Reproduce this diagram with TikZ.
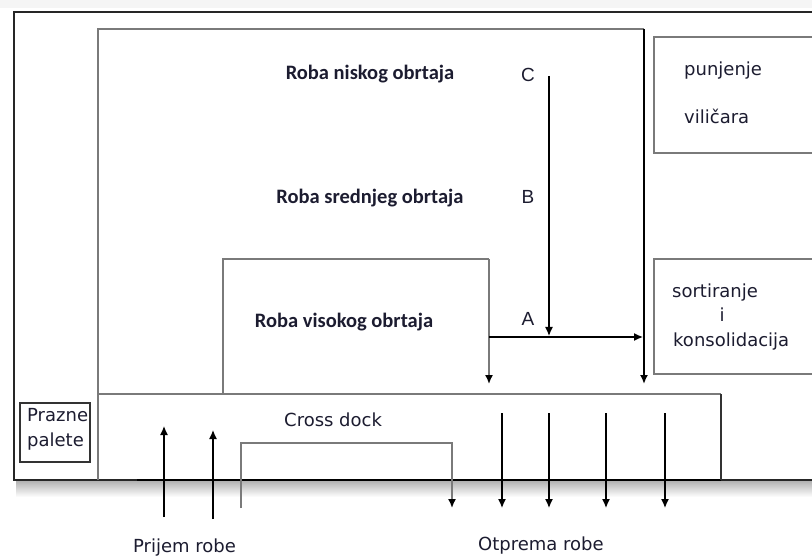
\documentclass[tikz,border=0pt]{standalone}
\usepackage{fontspec}
\setmainfont{DejaVu Sans}
\newfontfamily\calfont{Carlito}
\newfontfamily\arfont{Liberation Sans}
\usetikzlibrary{arrows.meta}
\definecolor{txt}{HTML}{1C1C30}
\definecolor{ln}{HTML}{7A7A7A}
\tikzset{
  wall/.style={draw=ln, line width=1.6pt},
  frame/.style={draw=black!85, line width=2.6pt},
  flow/.style={draw=black, line width=1.3pt, -{Latex[length=9pt,width=8pt,black]}},
  gflow/.style={draw=ln, line width=1.6pt, -{Latex[length=9pt,width=8pt,black]}},
  bold/.style={font=\calfont\bfseries\fontsize{20.5}{23}\selectfont, text=txt, inner sep=0pt},
  lbl/.style={font=\fontsize{18}{21}\selectfont, text=txt, inner sep=0pt},
  letter/.style={font=\arfont\fontsize{19}{22}\selectfont, text=txt, inner sep=0pt},
}
\begin{document}
\begin{tikzpicture}[x=1pt,y=-1pt]
\useasboundingbox (0,0) rectangle (812,556);
\fill[white] (0,0) rectangle (812,556);
% drop shadow under outer frame
\shade[top color=black!30, bottom color=white] (16,481) rectangle (812,497);
\fill[black!4] (0,0) rectangle (812,8);
% coordinates
\coordinate (oTR) at (812,12); \coordinate (oTL) at (14,12);
\coordinate (oBL) at (14,480); \coordinate (oB1) at (137,480);
\coordinate (oB2) at (721,480); \coordinate (oBR) at (812,480);
\coordinate (mBL) at (98,480); \coordinate (mTL) at (98,29); \coordinate (mTR) at (644,29);
\coordinate (mR) at (644,384);
\coordinate (vBL) at (223,394); \coordinate (vTL) at (223,259); \coordinate (vTR) at (489,259);
\coordinate (vR) at (489,384);
\coordinate (cL) at (98,394); \coordinate (cR) at (721,394);
\coordinate (g1) at (241,508); \coordinate (g2) at (241,443); \coordinate (g3) at (452,443); \coordinate (g4) at (452,508);
\coordinate (u1s) at (164,517); \coordinate (u1e) at (164,426);
\coordinate (u2s) at (213,519); \coordinate (u2e) at (213,430);
\foreach \i/\xx in {1/502,2/549,3/606,4/665}{
  \coordinate (d\i s) at (\xx,413); \coordinate (d\i e) at (\xx,508);}
\coordinate (cs) at (549,76); \coordinate (ce) at (549,336);
\coordinate (hs) at (489,337); \coordinate (he) at (643,337);
\coordinate (p1) at (812,37); \coordinate (p2) at (654,37); \coordinate (p3) at (654,153); \coordinate (p4) at (812,153);
\coordinate (s1) at (812,259); \coordinate (s2) at (654,259); \coordinate (s3) at (654,374); \coordinate (s4) at (812,374);
% outer frame
\draw[frame] (oTR) -- (oTL) -- (oBL) -- (oB1);
\draw[frame] (oB2) -- (oBR);
\draw[black, line width=1.3pt] (oB1) -- (oB2);
% main storage area
\draw[wall] (mBL) -- (mTL) -- (mTR);
\draw[flow, line width=1.8pt] (mTR) -- (mR);
% high turnover box
\draw[wall] (vBL) -- (vTL) -- (vTR);
\draw[gflow] (vTR) -- (vR);
% cross dock
\draw[wall] (cL) -- (cR);
\draw[draw=black!80, line width=1.6pt] (cR) -- (oB2);
% gate
\draw[gflow] (g1) -- (g2) -- (g3) -- (g4);
% flows
\draw[flow] (u1s) -- (u1e);
\draw[flow] (u2s) -- (u2e);
\foreach \i in {1,2,3,4}{\draw[flow] (d\i s) -- (d\i e);}
\draw[flow] (cs) -- (ce);
\draw[flow] (hs) -- (he);
% right side boxes
\draw[wall] (p1) -- (p2) -- (p3) -- (p4);
\draw[wall] (s1) -- (s2) -- (s3) -- (s4);
% empty pallets
\draw[draw=black!80, line width=1.4pt] (20,403) rectangle (90,462);
% labels
\node[bold, anchor=base] (tC) at (370,80) {Roba niskog obrtaja};
\node[bold, anchor=base] (tB) at (370,204) {Roba srednjeg obrtaja};
\node[bold, anchor=base] (tA) at (344,328) {Roba visokog obrtaja};
\node[letter, anchor=base] (lC) at (528,82) {C};
\node[letter, anchor=base] (lB) at (528,204) {B};
\node[letter, anchor=base] (lA) at (528,326) {A};
\node[lbl, anchor=base west] (pun) at (684,76) {punjenje};
\node[lbl, anchor=base west] (vil) at (684,124) {viličara};
\node[lbl, anchor=base west] (sor) at (672,298) {sortiranje};
\node[lbl, anchor=base] (ii) at (722,322) {i};
\node[lbl, anchor=base west] (kon) at (673,346) {konsolidacija};
\node[lbl, anchor=base west] (pr1) at (27,421) {Prazne};
\node[lbl, anchor=base west] (pr2) at (27,446) {palete};
\node[lbl, anchor=base west] (cd) at (284,426) {Cross dock};
\node[lbl, anchor=base west] (pri) at (133,552) {Prijem robe};
\node[lbl, anchor=base west] (otp) at (478,550) {Otprema robe};
\end{tikzpicture}
\end{document}
